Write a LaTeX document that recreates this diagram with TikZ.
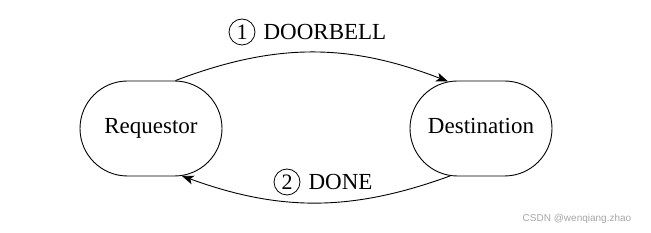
\documentclass[tikz,border=0pt]{standalone}
\usepackage{fontspec}
\setmainfont{Liberation Serif}
\setsansfont{Liberation Sans}
\usetikzlibrary{arrows.meta,shapes.misc,positioning}
\tikzset{
  agent/.style={draw,rounded rectangle,line width=0.9pt,minimum width=142pt,minimum height=95pt,inner sep=0pt,text height=16pt,text depth=5pt,font=\fontsize{23}{27}\selectfont},
  numcirc/.style={draw,circle,line width=0.8pt,minimum size=26pt,inner sep=0pt,font=\fontsize{22}{26}\selectfont},
  msg/.style={anchor=base west,inner sep=0pt,font=\fontsize{23}{27}\selectfont},
  flow/.style={line width=0.9pt,-{Stealth[length=12pt,width=9pt,inset=3pt]}}
}
\begin{document}
\begin{tikzpicture}[x=1pt,y=1pt]
  \useasboundingbox (0,0) rectangle (651,233);
  % the two ends
  \node[agent] (req) at (151,104.5) {Requestor};
  \node[agent] (dst) at (481,104.5) {Destination};
  % messages
  \draw[flow] (req.63) to[bend left=21] (dst.125);
  \draw[flow] (dst.237) to[bend left=20] (req.303);
  \node[numcirc] (n1) at (242,201) {1};
  \node[msg] (doorbell) at ([xshift=8pt]n1.base east) {DOORBELL};
  \node[numcirc] (n2) at (287,51) {2};
  \node[msg] (done) at ([xshift=8pt]n2.base east) {DONE};
  % watermark
  \node[text=black!35,font=\sffamily\fontsize{10}{12}\selectfont] (mark) at (577,14) {CSDN @wenqiang.zhao};
\end{tikzpicture}
\end{document}
